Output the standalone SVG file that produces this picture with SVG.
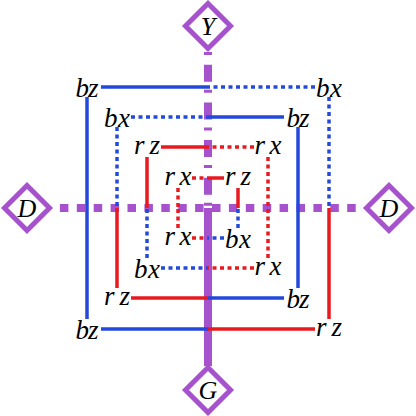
<svg xmlns="http://www.w3.org/2000/svg" width="416" height="416" viewBox="0 0 416 416">
<style>
.p{fill:none;stroke:#a652cc;stroke-width:8}
.bz{fill:none;stroke:#2548dc;stroke-width:3.5}
.bx{fill:none;stroke:#2548dc;stroke-width:3.5;stroke-dasharray:4 3.5}
.rz{fill:none;stroke:#e81a20;stroke-width:3.5}
.rx{fill:none;stroke:#e81a20;stroke-width:3.5;stroke-dasharray:4 3.5}
.dm{fill:#fff;stroke:#a652cc;stroke-width:5;stroke-linejoin:miter}
text{font-family:"Liberation Serif","DejaVu Serif",serif;font-style:italic;font-size:27px;fill:#000;text-anchor:middle}
.n{font-size:26px}
</style>
<g id="connectors">
<path class="p" d="M53 208H363" stroke-dasharray="8.5 8.4" stroke-dashoffset="10"/>
<path class="p" d="M208 52V208" stroke-dasharray="3 9.7 17 8"/>
<path class="p" d="M208 208V366"/>
<!-- level 1 -->
<path class="bz" d="M101 87H208M87 97V208"/>
<path class="bx" d="M315 87H208M329 97V208"/>
<path class="bz" d="M101 329H208M87 319V208"/>
<path class="rz" d="M315 329H208M329 319V208"/>
<!-- level 2 -->
<path class="bx" d="M131 117H208M117 127V208"/>
<path class="bz" d="M284 117H208M298 127V208"/>
<path class="rz" d="M131 298H208M117 288V208"/>
<path class="bz" d="M284 298H208M298 288V208"/>
<!-- level 3 -->
<path class="rz" d="M161 147H208M147 157V208"/>
<path class="rx" d="M254 147H208M268 157V208"/>
<path class="bx" d="M161 268H208M147 258V208"/>
<path class="rx" d="M254 268H208M268 258V208"/>
<!-- level 4 -->
<path class="rx" d="M192 178H208M178 188V208"/>
<path class="rz" d="M224 178H208M238 188V208"/>
<path class="rx" d="M192 238H208M178 228V208"/>
<path class="bx" d="M224 238H208M238 228V208"/>
</g>
<g id="Y"><path class="dm" d="M208 3.5L230.5 26L208 48.5L185.5 26Z"/><text class="n" x="208" y="35">Y</text></g>
<g id="G"><path class="dm" d="M208 367.5L230.5 390L208 412.5L185.5 390Z"/><text class="n" x="208" y="399">G</text></g>
<g id="D-left"><path class="dm" d="M27 185.5L49.5 208L27 230.5L4.5 208Z"/><text class="n" x="27" y="217">D</text></g>
<g id="D-right"><path class="dm" d="M389 185.5L411.5 208L389 230.5L366.5 208Z"/><text class="n" x="389" y="217">D</text></g>
<g id="labels">
<g id="l1-tl"><text x="87" y="97" textLength="23" lengthAdjust="spacing">bz</text></g>
<g id="l1-tr"><text x="329" y="97" textLength="26" lengthAdjust="spacing">bx</text></g>
<g id="l1-bl"><text x="87" y="339" textLength="23" lengthAdjust="spacing">bz</text></g>
<g id="l1-br"><text x="329" y="336" textLength="26" lengthAdjust="spacing">rz</text></g>
<g id="l2-tl"><text x="117" y="127" textLength="26" lengthAdjust="spacing">bx</text></g>
<g id="l2-tr"><text x="298" y="127" textLength="23" lengthAdjust="spacing">bz</text></g>
<g id="l2-bl"><text x="117" y="305" textLength="26" lengthAdjust="spacing">rz</text></g>
<g id="l2-br"><text x="298" y="308" textLength="23" lengthAdjust="spacing">bz</text></g>
<g id="l3-tl"><text x="147" y="154" textLength="26" lengthAdjust="spacing">rz</text></g>
<g id="l3-tr"><text x="268" y="154" textLength="27" lengthAdjust="spacing">rx</text></g>
<g id="l3-bl"><text x="147" y="278" textLength="26" lengthAdjust="spacing">bx</text></g>
<g id="l3-br"><text x="268" y="275" textLength="27" lengthAdjust="spacing">rx</text></g>
<g id="l4-tl"><text x="178" y="185" textLength="27" lengthAdjust="spacing">rx</text></g>
<g id="l4-tr"><text x="238" y="185" textLength="26" lengthAdjust="spacing">rz</text></g>
<g id="l4-bl"><text x="178" y="245" textLength="27" lengthAdjust="spacing">rx</text></g>
<g id="l4-br"><text x="238" y="248" textLength="26" lengthAdjust="spacing">bx</text></g>
</g>
</svg>
